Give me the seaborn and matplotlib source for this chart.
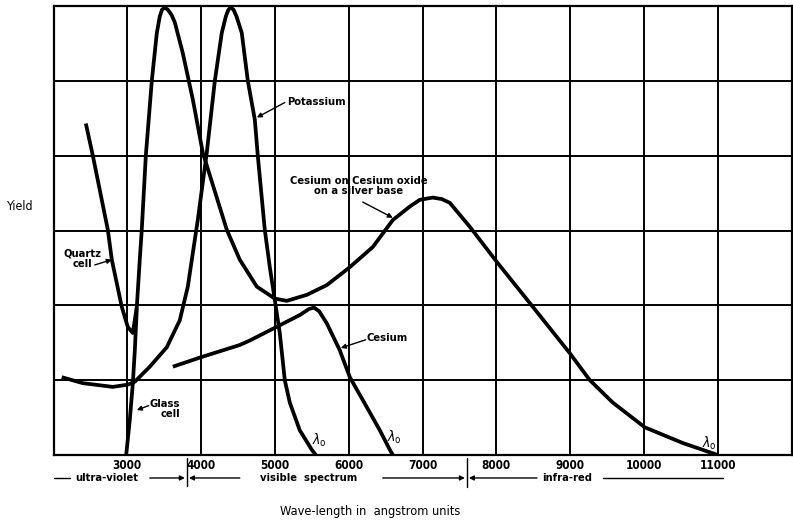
import matplotlib
matplotlib.use("Agg")
import matplotlib.pyplot as plt
import seaborn as sns
import pandas as pd

# ---------------- data ----------------
# Cesium on Cesium oxide on a silver base (quartz cell branch included)
csag_x = [2438, 2533, 2736, 2790, 2925, 3007, 3075, 3129, 3169, 3196, 3251, 3332,
          3400, 3440, 3470, 3508, 3550, 3600, 3644, 3752, 3888, 4023, 4348, 4524,
          4755, 4999, 5161, 5432, 5703, 6015, 6327, 6598, 6828, 6963, 7139, 7261,
          7370, 7641, 8007, 8495, 8996, 9267, 9579, 10012, 10527, 11001]
csag_y = [4.43, 4.00, 3.01, 2.61, 1.98, 1.71, 1.63, 1.98, 2.61, 3.01, 4.00, 5.00,
          5.64, 5.86, 5.95, 5.98, 5.95, 5.88, 5.78, 5.37, 4.75, 4.04, 3.01, 2.61,
          2.25, 2.09, 2.06, 2.14, 2.27, 2.51, 2.78, 3.14, 3.32, 3.41, 3.44, 3.42,
          3.37, 3.05, 2.58, 1.98, 1.36, 1.00, 0.70, 0.37, 0.16, 0.00]

# Glass cell branch
glass_x = [2985, 3034, 3075, 3102, 3129]
glass_y = [0.00, 0.47, 0.96, 1.40, 1.96]

# Potassium
k_x = [2112, 2397, 2804, 3007, 3102, 3305, 3535, 3711, 3820, 3888, 3955, 4077,
       4186, 4280, 4335, 4370, 4402, 4440, 4480, 4551, 4633, 4728, 4768, 4863,
       4931, 4999, 5066, 5134, 5202, 5337, 5500, 5554]
k_y = [1.04, 0.96, 0.91, 0.94, 0.98, 1.18, 1.44, 1.80, 2.25, 2.70, 3.14, 4.04,
       5.00, 5.64, 5.86, 5.95, 5.98, 5.95, 5.86, 5.64, 5.00, 4.48, 4.00, 3.01,
       2.51, 2.07, 1.63, 1.00, 0.70, 0.33, 0.07, 0.00]

# Cesium
cs_x = [3617, 4009, 4524, 4660, 4999, 5337, 5460, 5530, 5600, 5703, 5879, 6015,
        6245, 6422, 6557, 6598]
cs_y = [1.18, 1.31, 1.47, 1.53, 1.70, 1.87, 1.95, 1.97, 1.92, 1.76, 1.40, 1.04,
        0.64, 0.33, 0.07, 0.00]

xticks = [3000, 4000, 5000, 6000, 7000, 8000, 9000, 10000, 11000]
xtick_labels = ["3000", "4000", "5000", "6000", "7000", "8000", "9000", "10000", "11000"]
yticks = [1, 2, 3, 4, 5]

# ---------------- figure ----------------
sns.set_style("white")
plt.rcParams["font.family"] = ["DejaVu Sans"]
plt.rcParams["font.stretch"] = "condensed"
plt.rcParams["text.color"] = "black"
plt.rcParams["xtick.color"] = "black"
plt.rcParams["xtick.labelcolor"] = "black"

W, H = 793, 523
fig = plt.figure(figsize=(W / 100, H / 100), dpi=100)
ax = fig.add_axes([53.5 / W, 1 - 455 / H, (791.5 - 53.5) / W, (455 - 6) / H])

LW = 2.7
for xs, ys in [(csag_x, csag_y), (glass_x, glass_y), (k_x, k_y), (cs_x, cs_y)]:
    df = pd.DataFrame({"x": xs, "y": ys})
    sns.lineplot(data=df, x="x", y="y", ax=ax, color="black", linewidth=LW,
                 sort=False, estimator=None, solid_capstyle="butt",
                 solid_joinstyle="round")

ax.set_xlim(2000, 12000)
ax.set_ylim(0, 6)
ax.set_xticks(xticks)
ax.set_xticklabels(xtick_labels)
ax.set_yticks(yticks)
ax.set_yticklabels([])
ax.grid(True, color="black", linewidth=1.4)
ax.set_axisbelow(True)
for s in ax.spines.values():
    s.set_color("black")
    s.set_linewidth(1.6)
    s.set_visible(True)
ax.tick_params(axis="both", length=0, pad=3, labelsize=8.5)
for t in ax.get_xticklabels():
    t.set_fontweight("bold")
ax.set_xlabel("")
ax.set_ylabel("")

FS = 8
FW = "bold"
arrow = dict(arrowstyle="-|>", color="black", lw=1.0, mutation_scale=7,
             shrinkA=0, shrinkB=0)

# curve labels
ax.text(5161, 4.72, "Potassium", fontsize=FS, fontweight=FW, ha="left", va="center")
ax.annotate("", xy=(4755, 4.51), xytext=(5134, 4.71), arrowprops=arrow)

ax.text(6137, 3.59, "Cesium on Cesium oxide\non a silver base", fontsize=FS,
        fontweight=FW, ha="center", va="center", multialignment="center",
        linespacing=1.0)
ax.annotate("", xy=(6598, 3.17), xytext=(6191, 3.38), arrowprops=arrow)

ax.text(2397, 2.62, "Quartz\ncell", fontsize=FS, fontweight=FW, ha="center",
        va="center", multialignment="center", linespacing=1.0)
ax.annotate("", xy=(2790, 2.61), xytext=(2560, 2.54), arrowprops=arrow)

ax.text(3305, 0.615, "Glass\ncell", fontsize=FS, fontweight=FW, ha="left",
        va="center", multialignment="right", linespacing=1.0)
ax.annotate("", xy=(3129, 0.60), xytext=(3290, 0.66), arrowprops=arrow)

ax.text(6245, 1.56, "Cesium", fontsize=FS, fontweight=FW, ha="left", va="center")
ax.annotate("", xy=(5893, 1.43), xytext=(6230, 1.54), arrowprops=arrow)

for lx, ly in [(5608, 0.2), (6625, 0.23), (10892, 0.16)]:
    ax.text(lx, ly, r"$\lambda_{\mathrm{o}}$", fontsize=10, ha="center", va="center")

# spectrum band row under the axis
yr = -0.307
kw = dict(color="black", lw=1.0, clip_on=False)
ax.plot([2000, 2230], [yr, yr], **kw)
ax.text(2724, yr, "ultra-violet", fontsize=FS, fontweight=FW, ha="center", va="center")
ax.annotate("", xy=(3780, yr), xytext=(3305, yr), arrowprops=arrow, annotation_clip=False)
ax.plot([3806, 3806], [-0.04, -0.42], **kw)
ax.annotate("", xy=(3835, yr), xytext=(4524, yr), arrowprops=arrow, annotation_clip=False)
ax.text(5460, yr, "visible  spectrum", fontsize=FS, fontweight=FW, ha="center", va="center")
ax.annotate("", xy=(7575, yr), xytext=(6462, yr), arrowprops=arrow, annotation_clip=False)
ax.plot([7600, 7600], [-0.04, -0.43], **kw)
ax.annotate("", xy=(7628, yr), xytext=(8551, yr), arrowprops=arrow, annotation_clip=False)
ax.text(8962, yr, "infra-red", fontsize=FS, fontweight=FW, ha="center", va="center")
ax.plot([9440, 11075], [yr, yr], **kw)

fig.text(370 / W, 1 - 512 / H, "Wave-length in  angstrom units", fontsize=9.2,
         ha="center", va="center")
fig.text(20 / W, 1 - 207 / H, "Yield", fontsize=8.8, ha="center", va="center")

fig.savefig("out.png", dpi=100, facecolor="white")
